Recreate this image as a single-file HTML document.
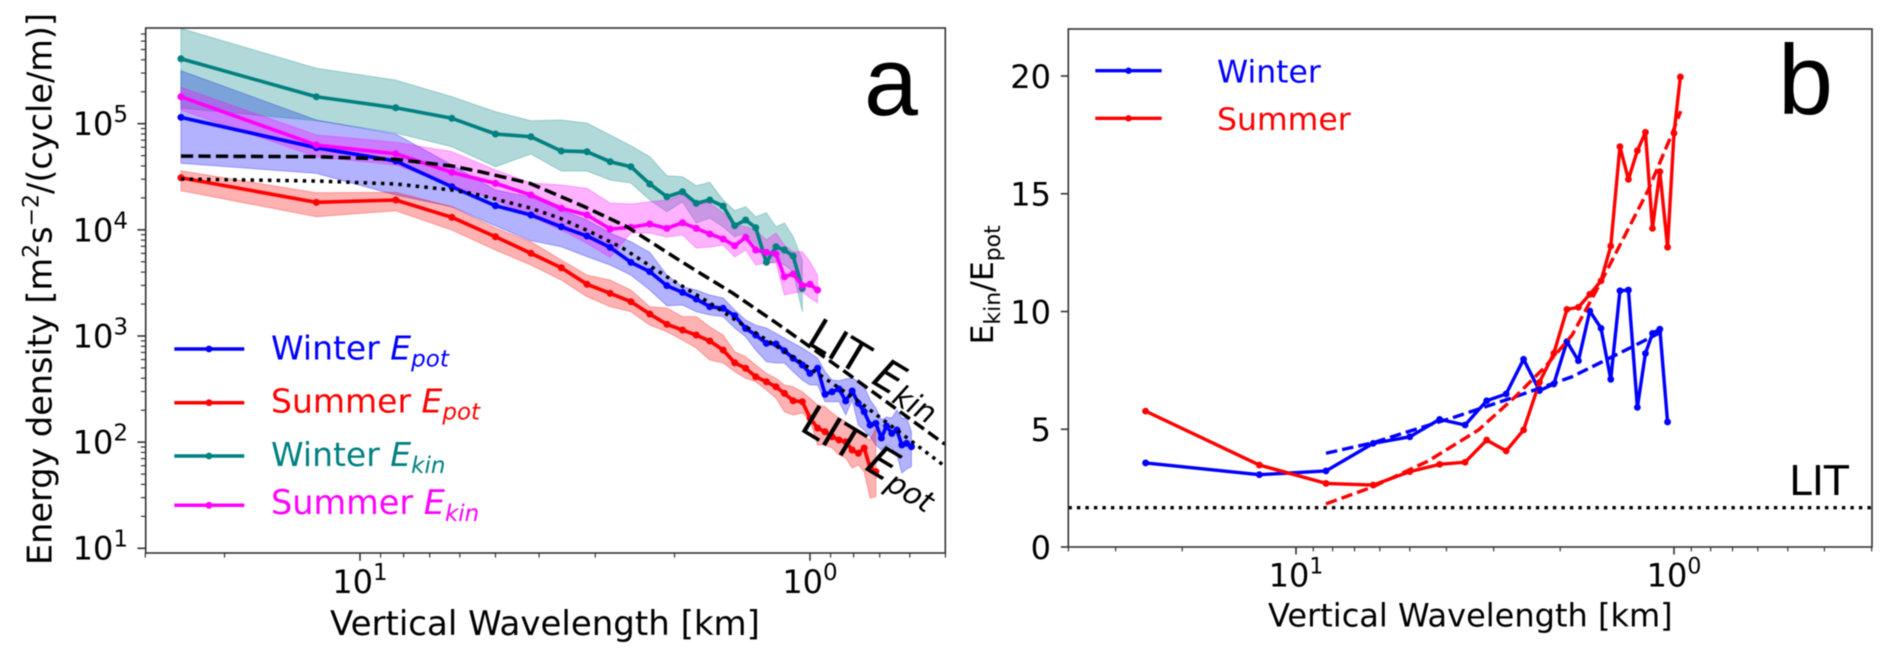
<!DOCTYPE html>
<html lang="en">
<head>
<meta charset="utf-8">
<title>Energy density spectra and kinetic to potential energy ratio</title>
<style>
html,body{margin:0;padding:0;background:#fff;}
svg{display:block;filter:blur(0.4px);}
text{font-family:"DejaVu Sans","Liberation Sans",sans-serif;}
</style>
</head>
<body>
<svg id="fig" xmlns="http://www.w3.org/2000/svg" width="1892" height="661" viewBox="0 0 1892 661">
  <defs>
    <clipPath id="clip-a"><rect x="146" y="28" width="799" height="525"/></clipPath>
    <clipPath id="clip-b"><rect x="1068.3" y="29" width="803.7" height="518"/></clipPath>
  </defs>
  <rect x="0" y="0" width="1892" height="661" fill="#ffffff"/>
  <g id="panel-a-marks" clip-path="url(#clip-a)"></g>
  <g id="panel-b-marks" clip-path="url(#clip-b)"></g>
  <g id="panel-a-axes"></g>
  <g id="panel-b-axes"></g>

  <text transform="translate(51.7,565) rotate(-90)" font-size="33.5" fill="#000">Energy density [m<tspan dy="-13" font-size="22">2</tspan><tspan dy="13">s</tspan><tspan dy="-13" font-size="22">−2</tspan><tspan dy="13">/(cycle/m)]</tspan></text>
  <text x="330" y="635" font-size="34" fill="#000">Vertical Wavelength [km]</text>
  <text x="864" y="115" font-size="97" fill="#000" style="font-family:'Liberation Sans',sans-serif">a</text>

  <g>
    <g>
      <line x1="174.3" x2="244.3" y1="349" y2="349" stroke="#0000ff" stroke-width="3.5"/><circle cx="209" cy="349" r="3.4" fill="#0000ff"/>
      <text x="271" y="359.3" font-size="33" fill="#0000ff">Winter <tspan font-style="italic">E</tspan><tspan font-style="italic" font-size="23" dy="7">pot</tspan></text>
    </g>
    <g>
      <line x1="174.3" x2="244.3" y1="402.7" y2="402.7" stroke="#ff0000" stroke-width="3.5"/><circle cx="209" cy="402.7" r="3.4" fill="#ff0000"/>
      <text x="271" y="412.3" font-size="33" fill="#ff0000">Summer <tspan font-style="italic">E</tspan><tspan font-style="italic" font-size="23" dy="7">pot</tspan></text>
    </g>
    <g>
      <line x1="174.3" x2="244.3" y1="456" y2="456" stroke="#008080" stroke-width="3.5"/><circle cx="209" cy="456" r="3.4" fill="#008080"/>
      <text x="271" y="466" font-size="33" fill="#008080">Winter <tspan font-style="italic">E</tspan><tspan font-style="italic" font-size="23" dy="7">kin</tspan></text>
    </g>
    <g>
      <line x1="174.3" x2="244.3" y1="505.3" y2="505.3" stroke="#ff00ff" stroke-width="3.5"/><circle cx="209" cy="505.3" r="3.4" fill="#ff00ff"/>
      <text x="271" y="514" font-size="33.5" fill="#ff00ff">Summer <tspan font-style="italic">E</tspan><tspan font-style="italic" font-size="23" dy="7">kin</tspan></text>
    </g>
  </g>
  <text transform="translate(804.5,343) rotate(31)" font-size="43" fill="#000">LIT <tspan font-style="italic">E</tspan><tspan font-style="italic" font-size="30" dy="6">kin</tspan></text>
  <text transform="translate(798,429.5) rotate(31)" font-size="43" fill="#000">LIT <tspan font-style="italic">E</tspan><tspan font-style="italic" font-size="30" dy="6">pot</tspan></text>

  <text transform="translate(993,344.5) rotate(-90)" font-size="31.5" fill="#000">E<tspan font-size="22" dy="7">kin</tspan><tspan dy="-7">/E</tspan><tspan font-size="22" dy="7">pot</tspan></text>
  <text x="1268" y="626.7" font-size="32" fill="#000">Vertical Wavelength [km]</text>
  <text x="1778" y="114" font-size="99" fill="#000" style="font-family:'Liberation Sans',sans-serif">b</text>
  <text x="1789" y="495" font-size="41" fill="#000">LIT</text>

  <g>
    <g>
      <line x1="1095.3" x2="1161.7" y1="70.7" y2="70.7" stroke="#0000ff" stroke-width="3.3"/><circle cx="1128.5" cy="70.7" r="3.2" fill="#0000ff"/>
      <text x="1217" y="82.3" font-size="31.5" fill="#0000ff">Winter</text>
    </g>
    <g>
      <line x1="1095.3" x2="1161.7" y1="118.3" y2="118.3" stroke="#ff0000" stroke-width="3.3"/><circle cx="1128.5" cy="118.3" r="3.2" fill="#ff0000"/>
      <text x="1217" y="130" font-size="31.5" fill="#ff0000">Summer</text>
    </g>
  </g>
</svg>
<script>
// Shared vertical wavelengths of the spectral points, km
const wavelengthsKm = [25,12.5,8.33,6.25,5,4.17,3.57,3.13,2.78,2.5,2.27,2.08,1.92,1.79,1.67,1.56,1.47,1.39,1.32,1.25,1.19,1.14,1.09,1.04,1,0.962,0.926,0.893,0.862,0.833,0.806,0.781,0.758,0.735,0.714,0.694,0.676,0.658,0.641,0.625,0.61,0.595];

// Panel a values: log10 of energy density
const winterEpot = [5.060,4.774,4.648,4.406,4.227,4.140,4.029,3.942,3.835,3.694,3.606,3.474,3.411,3.348,3.276,3.261,3.191,3.072,3.009,2.931,2.925,2.861,2.790,2.727,2.648,2.696,2.451,2.475,2.501,2.388,2.482,2.366,2.287,2.161,2.177,2.039,2.152,2.083,2.114,1.973,1.989,1.957];
const winterEpotUpper = [5.499,5.035,4.903,4.611,4.375,4.309,4.187,4.093,3.970,3.888,3.788,3.574,3.464,3.433,3.386,3.358,3.245,3.151,3.103,3.075,3.025,2.981,2.934,2.887,2.840,2.793,2.664,2.585,2.579,2.595,2.607,2.569,2.522,2.397,2.322,2.209,2.237,2.227,2.303,2.227,2.227,2.098];
const winterEpotLower = [4.627,4.532,4.328,4.218,4.036,3.898,3.841,3.747,3.669,3.574,3.433,3.285,3.292,3.229,3.198,3.182,3.075,2.993,2.868,2.758,2.746,2.746,2.664,2.585,2.538,2.538,2.381,2.381,2.381,2.256,2.397,2.161,2.114,2.051,1.973,1.926,1.973,1.945,1.879,1.709,1.747,1.769];

const summerEpot = [4.491,4.259,4.281,4.118,3.935,3.779,3.643,3.487,3.402,3.323,3.207,3.110,3.056,3.009,2.953,2.868,2.748,2.696,2.616,2.569,2.522,2.460,2.390,2.381,2.227,2.133,2.098,2.051,2.020,2.004,1.926,1.895,1.945,1.756,1.722];
const summerEpotUpper = [4.557,4.350,4.354,4.218,4.017,3.888,3.716,3.574,3.527,3.433,3.276,3.264,3.182,3.182,3.087,3.009,2.852,2.805,2.727,2.648,2.601,2.538,2.522,2.475,2.413,2.350,2.334,2.275,2.227,2.193,2.114,2.086,2.051,2.020,2.133];
const summerEpotLower = [4.369,4.124,4.180,3.998,3.810,3.669,3.527,3.370,3.276,3.229,3.103,3.040,2.962,2.887,2.774,2.746,2.664,2.601,2.569,2.491,2.416,2.287,2.256,2.275,2.209,1.973,1.973,1.945,1.879,1.851,1.756,1.785,1.722,1.474,1.486];

const winterEkin = [5.612,5.254,5.150,5.051,4.903,4.877,4.743,4.736,4.642,4.595,4.432,4.312,4.359,4.250,4.281,4.224,4.039,4.093,4.020,3.694,3.841,3.810,3.753,3.449];
const winterEkinUpper = [5.897,5.522,5.411,5.254,5.113,5.028,5.035,5.006,4.893,4.792,4.689,4.510,4.500,4.416,4.448,4.281,4.180,4.218,4.124,4.161,4.029,4.064,3.935,3.716];
const winterEkinLower = [5.148,5.028,4.912,4.783,4.595,4.714,4.554,4.554,4.469,4.441,4.281,4.171,4.265,4.064,4.111,4.029,3.935,3.970,3.857,3.688,3.700,3.669,3.606,3.229];

const summerEkin = [5.254,4.799,4.717,4.542,4.438,4.328,4.203,4.140,4.008,4.024,4.055,4.014,4.067,4.014,3.961,3.914,3.850,3.930,3.810,3.788,3.772,3.558,3.584,3.474,3.487,3.433];
const summerEkinUpper = [5.343,4.893,4.825,4.736,4.564,4.441,4.422,4.391,4.253,4.243,4.265,4.281,4.328,4.234,4.253,4.159,4.045,4.029,3.998,3.904,3.970,3.857,3.794,3.794,3.700,3.574];
const summerEkinLower = [5.129,4.689,4.611,4.422,4.281,4.124,3.998,3.873,3.741,3.970,3.970,3.932,3.951,3.829,3.838,3.857,3.744,3.810,3.669,3.688,3.688,3.386,3.405,3.417,3.358,3.314];

// LIT reference curves in panel a
const litEkinKm = [25,12.5,8.3,6.24,5.41,4.19,3.16,2.55,1.91,1.48,1.17,0.828,0.506,0.49];
const litEkin = [4.695,4.689,4.664,4.601,4.548,4.438,4.215,4.029,3.688,3.400,3.103,2.651,1.992,1.965];
const litEpotKm = [25,12.5,8.3,6.24,5.41,4.19,3.6,3.08,2.61,2.08,1.67,1.43,1.17,0.95,0.787,0.664,0.506,0.49];
const litEpot = [4.479,4.460,4.432,4.375,4.328,4.206,4.111,3.982,3.829,3.558,3.311,3.122,2.887,2.632,2.397,2.161,1.785,1.755];

// Panel b values: Ekin/Epot
const winterRatio = [3.57,3.07,3.23,4.40,4.68,5.42,5.18,6.21,6.50,7.97,6.64,6.92,8.72,7.91,10.02,9.29,7.12,10.88,10.91,5.93,8.22,9.07,9.25,5.31];
const summerRatio = [5.77,3.48,2.70,2.63,3.20,3.51,3.60,4.54,4.08,4.97,6.99,8.22,10.09,10.18,10.73,11.30,12.78,17.00,15.61,16.83,17.61,13.53,15.94,12.73,17.57,19.96];
const winterFitKm = [8.33,6.25,3.8,2.63,1.86,1.29,1.06];
const winterFit = [3.98,4.43,5.52,6.38,7.23,8.50,9.20];
const summerFitKm = [8.33,6.25,4.46,3.29,2.63,2.19,1.86,1.55,1.17,1.01,0.96];
const summerFit = [1.83,2.56,3.66,4.97,6.38,7.66,9.00,11.34,15.16,17.58,18.51];
const litRatioKm = [40,0.3];
const litRatio = [1.67,1.67];

// Axis tick definitions
const panelAYExponents = [1,2,3,4,5];
const panelAYMinorDecades = [10,100,1000,10000,100000];
const panelAXExponents = [1,0];
const panelBYTicks = [0,5,10,15,20];
const panelBXExponents = [1,0];
const minorMultipliers = [2,3,4,5,6,7,8,9];
const panelAXMinor = [30,20,9,8,7,6,5,4,3,2,0.9,0.8,0.7,0.6,0.5];
const panelBXMinor = [40,30,20,9,8,7,6,5,4,3,2,0.9,0.8,0.7,0.6,0.5,0.4,0.3];

const SVG_NS = 'http://www.w3.org/2000/svg';
const FRAME = '#333333';
const frameA = {left:145.7, right:945.3, top:28, bottom:553};
const frameB = {left:1068.3, right:1872, top:29, bottom:547};

function xA(km){ return 810 - 450 * Math.log10(km); }
function yA(logE){ return 548.3 - 106.15 * (logE - 1); }
function xB(km){ return 1674 - 378 * Math.log10(km); }
function yB(ratio){ return 547 - 23.55 * ratio; }

function make(parent, tag, name){
  const el = document.createElementNS(SVG_NS, tag);
  
  
  parent.appendChild(el);
  return el;
}
function pathFrom(xs, ys, xf, yf){
  return ys.map(function(v, i){ return (i ? 'L' : 'M') + xf(xs[i]).toFixed(2) + ' ' + yf(v).toFixed(2); }).join(' ');
}
function drawBand(parent, xs, upper, lower, color, name){
  const el = make(parent, 'path', name);
  const top = upper.map(function(v, i){ return (i ? 'L' : 'M') + xA(xs[i]).toFixed(2) + ' ' + yA(v).toFixed(2); }).join(' ');
  let bottom = '';
  for (let i = lower.length - 1; i >= 0; i--) { bottom += ' L' + xA(xs[i]).toFixed(2) + ' ' + yA(lower[i]).toFixed(2); }
  el.setAttribute('d', top + bottom + ' Z');
  el.setAttribute('fill', color);
  el.setAttribute('fill-opacity', '0.3');
  el.setAttribute('stroke', color);
  el.setAttribute('stroke-opacity', '0.3');
  el.setAttribute('stroke-width', '1');
}
function drawLine(parent, xs, ys, xf, yf, color, width, dash, name){
  const el = make(parent, 'path', name);
  el.setAttribute('d', pathFrom(xs, ys, xf, yf));
  el.setAttribute('fill', 'none');
  el.setAttribute('stroke', color);
  el.setAttribute('stroke-width', width);
  el.setAttribute('stroke-linejoin', 'round');
  if (dash) { el.setAttribute('stroke-dasharray', dash); }
}
function drawPoints(parent, xs, ys, xf, yf, color, radius, name){
  ys.forEach(function(v, i){
    const c = make(parent, 'circle', name);
    c.setAttribute('cx', xf(xs[i]).toFixed(2));
    c.setAttribute('cy', yf(v).toFixed(2));
    c.setAttribute('r', radius);
    c.setAttribute('fill', color);
  });
}
function tick(parent, x1, y1, x2, y2, width, name){
  const l = make(parent, 'line', name);
  l.setAttribute('x1', x1);
  l.setAttribute('y1', y1);
  l.setAttribute('x2', x2);
  l.setAttribute('y2', y2);
  l.setAttribute('stroke', FRAME);
  l.setAttribute('stroke-width', width);
}
function frame(parent, f, name){
  const r = make(parent, 'rect', name);
  r.setAttribute('x', f.left);
  r.setAttribute('y', f.top);
  r.setAttribute('width', f.right - f.left);
  r.setAttribute('height', f.bottom - f.top);
  r.setAttribute('fill', 'none');
  r.setAttribute('stroke', FRAME);
  r.setAttribute('stroke-width', '1.6');
}
function powerLabel(parent, x, y, anchor, size, expSize, rise, exponent, name){
  const t = make(parent, 'text', name);
  t.setAttribute('x', x);
  t.setAttribute('y', y);
  t.setAttribute('text-anchor', anchor);
  t.setAttribute('font-size', size);
  t.setAttribute('fill', '#000');
  t.appendChild(document.createTextNode('10'));
  const s = document.createElementNS(SVG_NS, 'tspan');
  s.setAttribute('dy', -rise);
  s.setAttribute('font-size', expSize);
  s.textContent = String(exponent);
  t.appendChild(s);
}

// Panel a marks
const marksA = document.getElementById('panel-a-marks');
drawBand(marksA, wavelengthsKm, winterEpotUpper, winterEpotLower, '#0000ff', 'winter-epot-band');
drawBand(marksA, wavelengthsKm, summerEpotUpper, summerEpotLower, '#ff0000', 'summer-epot-band');
drawBand(marksA, wavelengthsKm, winterEkinUpper, winterEkinLower, '#008080', 'winter-ekin-band');
drawBand(marksA, wavelengthsKm, summerEkinUpper, summerEkinLower, '#ff00ff', 'summer-ekin-band');
drawLine(marksA, wavelengthsKm, winterEpot, xA, yA, '#0000ff', 3.6, null, 'winter-epot-line');
drawPoints(marksA, wavelengthsKm, winterEpot, xA, yA, '#0000ff', 3.5, 'winter-epot-point');
drawLine(marksA, wavelengthsKm, summerEpot, xA, yA, '#ff0000', 3.6, null, 'summer-epot-line');
drawPoints(marksA, wavelengthsKm, summerEpot, xA, yA, '#ff0000', 3.5, 'summer-epot-point');
drawLine(marksA, wavelengthsKm, winterEkin, xA, yA, '#008080', 3.6, null, 'winter-ekin-line');
drawPoints(marksA, wavelengthsKm, winterEkin, xA, yA, '#008080', 3.5, 'winter-ekin-point');
drawLine(marksA, wavelengthsKm, summerEkin, xA, yA, '#ff00ff', 3.6, null, 'summer-ekin-line');
drawPoints(marksA, wavelengthsKm, summerEkin, xA, yA, '#ff00ff', 3.5, 'summer-ekin-point');
drawLine(marksA, litEkinKm, litEkin, xA, yA, '#000000', 3.5, '12.2 5.3', 'lit-ekin-line');
drawLine(marksA, litEpotKm, litEpot, xA, yA, '#000000', 3.5, '3.5 5.2', 'lit-epot-line');

// Panel a axes
const axesA = document.getElementById('panel-a-axes');
panelAYExponents.forEach(function(e){
  const y = yA(e);
  tick(axesA, frameA.left - 8.3, y, frameA.left, y, 1.6, 'y-tick-major');
  powerLabel(axesA, 128, y + 11.4, 'end', 32, 23, 13, e, 'y-tick-label');
});
panelAYMinorDecades.forEach(function(d){
  minorMultipliers.forEach(function(m){
    const y = yA(Math.log10(d * m));
    if (y >= frameA.top && y <= frameA.bottom) { tick(axesA, frameA.left - 4.8, y, frameA.left, y, 1.2, 'y-tick-minor'); }
  });
});
panelAXExponents.forEach(function(e){
  const x = xA(Math.pow(10, e));
  tick(axesA, x, frameA.bottom, x, frameA.bottom + 7.8, 1.6, 'x-tick-major');
  powerLabel(axesA, x, 593, 'middle', 32, 23, 13, e, 'x-tick-label');
});
panelAXMinor.forEach(function(v){
  const x = xA(v);
  tick(axesA, x, frameA.bottom, x, frameA.bottom + 4.6, 1.2, 'x-tick-minor');
});
frame(axesA, frameA, 'panel-a-frame');

// Panel b marks
const marksB = document.getElementById('panel-b-marks');
drawLine(marksB, wavelengthsKm, winterRatio, xB, yB, '#0000ff', 3.4, null, 'winter-ratio-line');
drawPoints(marksB, wavelengthsKm, winterRatio, xB, yB, '#0000ff', 3.4, 'winter-ratio-point');
drawLine(marksB, wavelengthsKm, summerRatio, xB, yB, '#ff0000', 3.4, null, 'summer-ratio-line');
drawPoints(marksB, wavelengthsKm, summerRatio, xB, yB, '#ff0000', 3.4, 'summer-ratio-point');
drawLine(marksB, winterFitKm, winterFit, xB, yB, '#0000ff', 3.4, '11.5 5', 'winter-fit-line');
drawLine(marksB, summerFitKm, summerFit, xB, yB, '#ff0000', 3.4, '11.5 5', 'summer-fit-line');
drawLine(marksB, litRatioKm, litRatio, xB, yB, '#000000', 3.4, '3.4 5.1', 'lit-ratio-line');

// Panel b axes
const axesB = document.getElementById('panel-b-axes');
panelBYTicks.forEach(function(v){
  const y = yB(v);
  tick(axesB, frameB.left - 7.5, y, frameB.left, y, 1.6, 'y-tick-major');
  const t = make(axesB, 'text', 'y-tick-label');
  t.setAttribute('x', 1051);
  t.setAttribute('y', y + 11.8);
  t.setAttribute('text-anchor', 'end');
  t.setAttribute('font-size', '32');
  t.setAttribute('fill', '#000');
  t.textContent = String(v);
});
panelBXExponents.forEach(function(e){
  const x = xB(Math.pow(10, e));
  tick(axesB, x, frameB.bottom, x, frameB.bottom + 7.5, 1.6, 'x-tick-major');
  powerLabel(axesB, x, 586.7, 'middle', 32, 22, 13, e, 'x-tick-label');
});
panelBXMinor.forEach(function(v){
  const x = xB(v);
  tick(axesB, x, frameB.bottom, x, frameB.bottom + 4.4, 1.2, 'x-tick-minor');
});
frame(axesB, frameB, 'panel-b-frame');
</script>
</body>
</html>
